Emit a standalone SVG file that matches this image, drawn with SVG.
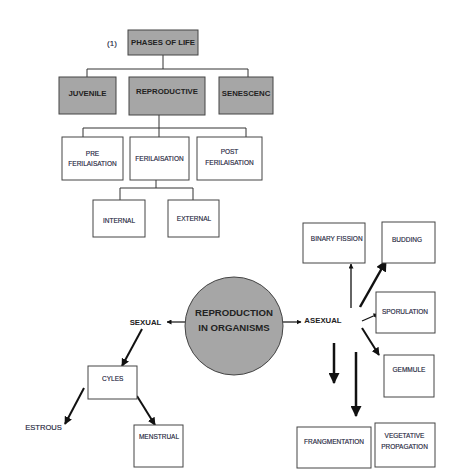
<svg xmlns="http://www.w3.org/2000/svg" width="452" height="475" viewBox="0 0 452 475">
<defs>
<style>
.box{fill:#fff;stroke:#444;stroke-width:1}
.gbox{fill:#a6a6a6;stroke:#444;stroke-width:1}
.t{font-family:"Liberation Sans",Arial,sans-serif;font-size:6.5px;fill:#1f2740;stroke:#1f2740;stroke-width:0.15;text-anchor:middle}
.tb{font-family:"Liberation Sans",Arial,sans-serif;font-size:7.8px;font-weight:bold;fill:#222;text-anchor:middle}
.tc{font-family:"Liberation Sans",Arial,sans-serif;font-size:9.6px;font-weight:bold;fill:#222;text-anchor:middle}
.tree{fill:none;stroke:#333;stroke-width:1}
.ar{stroke:#111;fill:none}
</style>
<marker id="hs" viewBox="0 0 10 10" refX="9" refY="5" markerWidth="5" markerHeight="5" markerUnits="userSpaceOnUse" orient="auto"><path d="M0,0L10,5L0,10z" fill="#111"/></marker>
<marker id="hm" viewBox="0 0 10 10" refX="9" refY="5" markerWidth="8" markerHeight="8" markerUnits="userSpaceOnUse" orient="auto"><path d="M0,0L10,5L0,10z" fill="#111"/></marker>
<marker id="hl" viewBox="0 0 10 10" refX="9" refY="5" markerWidth="11" markerHeight="11" markerUnits="userSpaceOnUse" orient="auto"><path d="M0,0L10,5L0,10z" fill="#111"/></marker>
</defs>
<rect width="452" height="475" fill="#fff"/>

<g id="connectors">
<path class="tree" d="M163,55V69M87,77V69H248V77M159,115V128M83,137V128H246V137M159,128V137M156,180V188M120,200V188H193V200"/>
<line class="ar" x1="185" y1="322" x2="167" y2="322" stroke-width="1.2" marker-end="url(#hs)"/>
<line class="ar" x1="283" y1="322" x2="301" y2="322" stroke-width="1.2" marker-end="url(#hs)"/>
<line class="ar" x1="142" y1="329" x2="122" y2="366" stroke-width="2" marker-end="url(#hm)"/>
<line class="ar" x1="84" y1="388" x2="65" y2="424" stroke-width="2" marker-end="url(#hm)"/>
<line class="ar" x1="137" y1="396" x2="155" y2="425" stroke-width="2" marker-end="url(#hm)"/>
<line class="ar" x1="351" y1="308" x2="351" y2="264" stroke-width="1.3" marker-end="url(#hs)"/>
<line class="ar" x1="360" y1="307" x2="386" y2="261" stroke-width="2.5" marker-end="url(#hl)"/>
<line class="ar" x1="362" y1="321" x2="378" y2="314" stroke-width="1.3" marker-end="url(#hs)"/>
<line class="ar" x1="362" y1="328" x2="379" y2="355" stroke-width="2" marker-end="url(#hm)"/>
<line class="ar" x1="334" y1="343" x2="334" y2="383" stroke-width="2.5" marker-end="url(#hl)"/>
<line class="ar" x1="356" y1="352" x2="356" y2="416" stroke-width="2.5" marker-end="url(#hl)"/>
</g>

<text x="112" y="46" class="t" style="font-size:8px">(1)</text>
<g id="phases"><rect class="gbox" x="128" y="30" width="70" height="25"/><text x="163" y="45" class="tb">PHASES OF LIFE</text></g>
<g id="juvenile"><rect class="gbox" x="59" y="77" width="57" height="37"/><text x="87.5" y="95.5" class="tb">JUVENILE</text></g>
<g id="reproductive"><rect class="gbox" x="129" y="77" width="76" height="38"/><text x="167" y="93.5" class="tb">REPRODUCTIVE</text></g>
<g id="senescenc"><rect class="gbox" x="219" y="77" width="54" height="37"/><text x="246" y="96" class="tb">SENESCENC</text></g>

<g id="pre"><rect class="box" x="62" y="137" width="61" height="43"/><text x="92.5" y="155.5" class="t">PRE</text><text x="92.5" y="165.5" class="t">FERILAISATION</text></g>
<g id="ferilaisation"><rect class="box" x="130" y="137" width="59" height="43"/><text x="159.5" y="160.5" class="t">FERILAISATION</text></g>
<g id="post"><rect class="box" x="197" y="137" width="65" height="43"/><text x="229.5" y="153.5" class="t">POST</text><text x="229.5" y="165" class="t">FERILAISATION</text></g>
<g id="internal"><rect class="box" x="93" y="200" width="52" height="37"/><text x="119" y="222.5" class="t">INTERNAL</text></g>
<g id="external"><rect class="box" x="168" y="200" width="51" height="37"/><text x="194" y="220.5" class="t">EXTERNAL</text></g>

<g id="reproduction"><circle cx="234" cy="326" r="49" fill="#a6a6a6" stroke="#444" stroke-width="1"/><text x="234" y="315.5" class="tc">REPRODUCTION</text><text x="234" y="330.5" class="tc">IN ORGANISMS</text></g>
<g id="sexual"><text x="145.5" y="324.5" class="tb">SEXUAL</text></g>
<g id="asexual"><text x="323" y="323" class="tb">ASEXUAL</text></g>

<g id="cyles"><rect class="box" x="88" y="366" width="49" height="33"/><text x="112.7" y="380.5" class="t">CYLES</text></g>
<g id="estrous"><text x="43.5" y="430" class="t" style="font-size:7.6px">ESTROUS</text></g>
<g id="menstrual"><rect class="box" x="134" y="425" width="49" height="42"/><text x="159" y="439" class="t">MENSTRUAL</text></g>

<g id="binary"><rect class="box" x="303" y="223" width="62" height="40"/><text x="336.7" y="240.5" class="t">BINARY FISSION</text></g>
<g id="budding"><rect class="box" x="382" y="222" width="53" height="41"/><text x="407" y="241.5" class="t">BUDDING</text></g>
<g id="sporulation"><rect class="box" x="376" y="292" width="59" height="41"/><text x="405" y="314" class="t">SPORULATION</text></g>
<g id="gemmule"><rect class="box" x="384" y="355" width="50" height="42"/><text x="409" y="372" class="t">GEMMULE</text></g>
<g id="fragmentation"><rect class="box" x="297" y="427" width="74" height="41"/><text x="334" y="444" class="t">FRANGMENTATION</text></g>
<g id="vegetative"><rect class="box" x="375" y="423" width="60" height="44"/><text x="404.5" y="437.5" class="t">VEGETATIVE</text><text x="404.5" y="449" class="t">PROPAGATION</text></g>
</svg>
